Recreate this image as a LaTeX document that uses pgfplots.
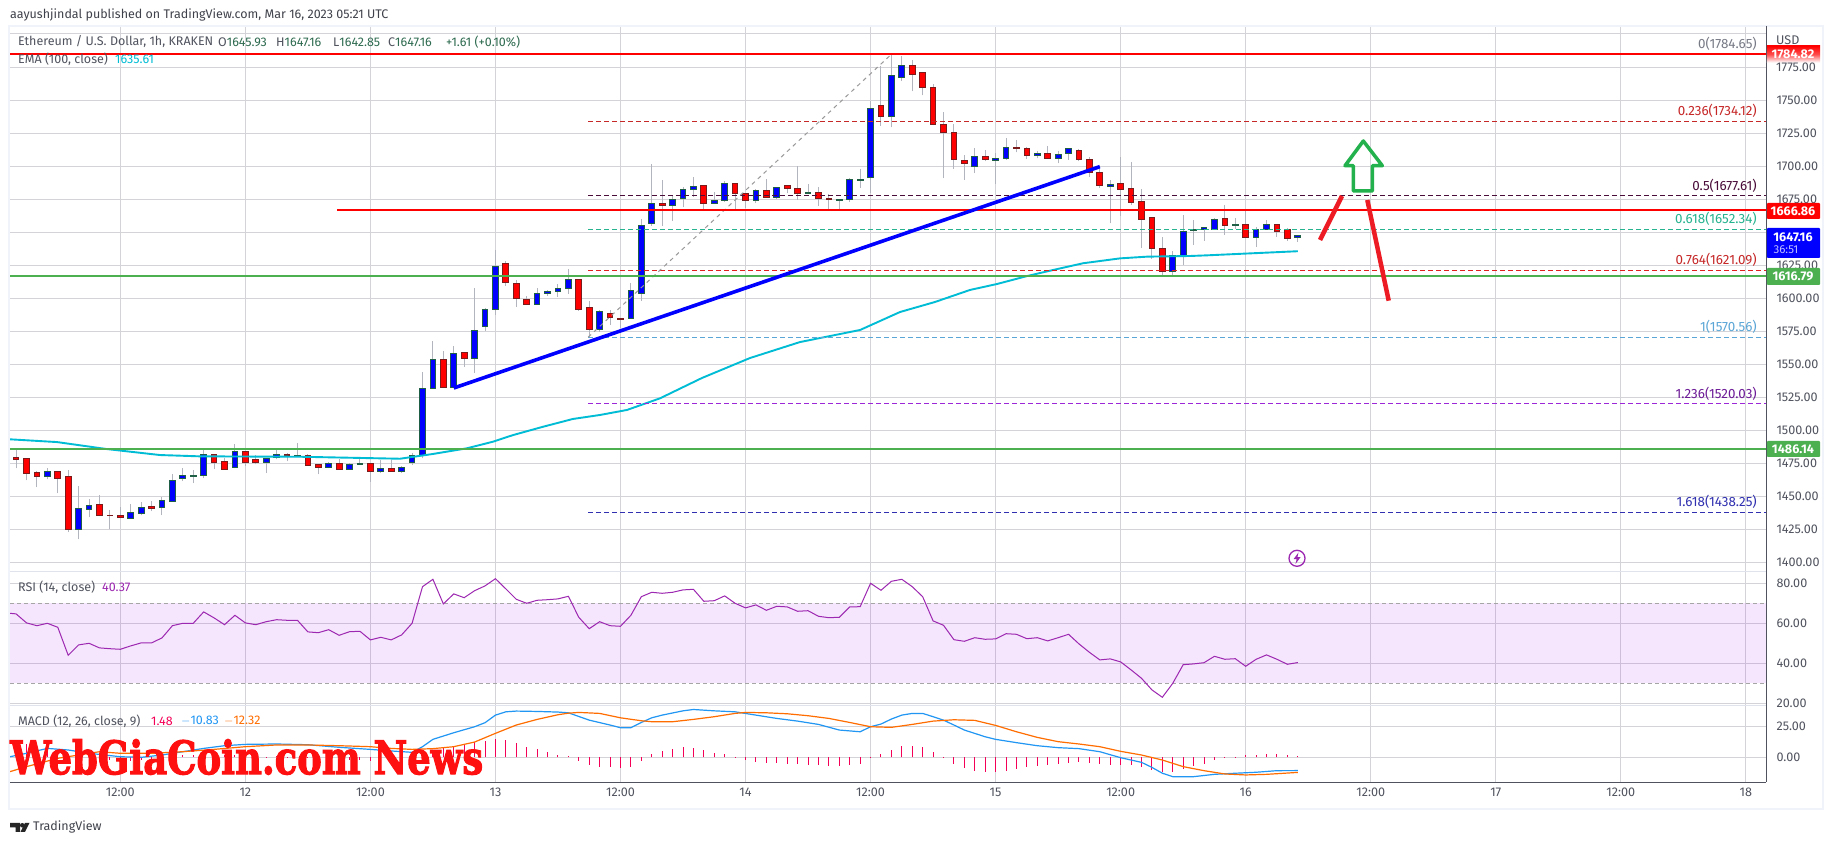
\documentclass[border=0pt]{standalone}
\usepackage{pgfplots}
\pgfplotsset{compat=1.18}
\usepackage{pgfplotstable}
\usepackage{graphicx}
\usepackage{fontspec}
\setmainfont{Fira Sans}
\newfontfamily\wmfont[BoldFeatures={FakeBold=2.5}]{DejaVu Serif}
\definecolor{tvtext}{HTML}{50535E}
\definecolor{gridc}{HTML}{D4D4D8}
\definecolor{sepc}{HTML}{E0E3EB}
\definecolor{frame}{HTML}{F0F3FA}
\definecolor{upb}{HTML}{1E5F46}
\definecolor{dnb}{HTML}{7A1C1C}
\definecolor{wick}{HTML}{B2B5BE}
\definecolor{emac}{HTML}{00BCD4}
\definecolor{lgreen}{HTML}{4CAF50}
\definecolor{rsic}{HTML}{9C27B0}
\definecolor{macdb}{HTML}{2196F3}
\definecolor{macdo}{HTML}{FF6D00}
\definecolor{histc}{HTML}{F50057}
\definecolor{fibA}{HTML}{787B86}
\definecolor{fibB}{HTML}{C62828}
\definecolor{fibC}{HTML}{4A0D3A}
\definecolor{fibD}{HTML}{26B38F}
\definecolor{fibE}{HTML}{E0201F}
\definecolor{fibF}{HTML}{5BA6D6}
\definecolor{fibG}{HTML}{9C27D8}
\definecolor{fibH}{HTML}{3030B0}
\definecolor{ohlc}{HTML}{2E6B50}
\pgfplotstableread{
x o hi lo c
2 1479.7 1485.7 1471.3 1478.2
3 1478.7 1478.7 1462.2 1467.8
4 1468.0 1469.6 1457.2 1464.8
5 1464.8 1471.3 1463.0 1468.8
6 1468.8 1468.8 1452.4 1464.0
7 1465.0 1469.8 1423.0 1425.4
8 1424.9 1457.7 1417.6 1440.8
9 1440.5 1448.4 1434.2 1443.0
10 1443.8 1450.9 1435.0 1436.0
11 1435.8 1439.5 1425.1 1435.3
12 1435.8 1441.8 1434.5 1434.5
13 1433.7 1444.0 1433.7 1437.8
14 1437.5 1445.6 1435.7 1441.5
15 1442.6 1446.3 1439.0 1441.3
16 1441.5 1449.6 1435.7 1446.8
17 1446.6 1466.8 1446.6 1462.0
18 1463.3 1471.3 1461.7 1465.8
19 1465.5 1469.8 1460.2 1466.0
20 1465.8 1485.7 1464.0 1481.7
21 1481.7 1481.7 1470.6 1475.4
22 1476.4 1479.4 1470.8 1470.8
23 1472.3 1489.5 1471.3 1484.0
24 1484.0 1484.0 1473.0 1476.1
25 1477.9 1481.4 1474.4 1475.4
26 1476.1 1479.4 1467.8 1478.7
27 1479.4 1485.7 1478.2 1481.7
28 1481.7 1482.7 1476.6 1480.7
29 1480.7 1490.3 1480.7 1481.2
30 1480.9 1482.0 1473.1 1473.1
31 1474.1 1474.4 1466.8 1472.3
32 1472.3 1476.4 1471.3 1474.9
33 1474.9 1478.2 1470.8 1470.8
34 1470.8 1475.6 1470.6 1474.1
35 1474.1 1478.2 1474.1 1474.9
36 1474.9 1474.9 1461.0 1468.6
37 1468.6 1478.0 1468.0 1471.0
38 1471.0 1478.0 1468.6 1469.3
39 1469.3 1473.0 1468.0 1472.3
40 1475.5 1483.0 1474.0 1481.0
41 1480.8 1544.2 1478.8 1531.8
42 1531.8 1567.7 1531.8 1553.8
43 1553.8 1560.1 1532.0 1532.3
44 1532.3 1563.9 1531.8 1558.3
45 1559.1 1559.1 1548.2 1554.5
46 1554.5 1607.6 1543.7 1575.8
47 1578.5 1592.9 1575.3 1591.7
48 1591.6 1636.5 1587.3 1624.2
49 1626.5 1628.3 1609.3 1611.9
50 1611.4 1613.9 1593.7 1599.7
51 1599.2 1601.8 1595.2 1595.2
52 1595.2 1607.8 1595.2 1603.8
53 1603.5 1606.3 1601.8 1605.3
54 1605.0 1610.9 1601.3 1607.6
55 1607.3 1622.2 1603.3 1614.4
56 1614.4 1614.4 1590.7 1591.7
57 1593.2 1598.0 1570.0 1576.5
58 1576.5 1591.2 1574.7 1590.2
59 1588.6 1591.2 1579.8 1585.4
60 1584.8 1584.8 1577.3 1583.8
61 1584.6 1611.4 1584.6 1606.1
62 1603.8 1659.8 1598.2 1654.8
63 1656.8 1701.5 1654.8 1672.0
64 1672.0 1689.6 1654.8 1670.2
65 1670.2 1678.3 1658.8 1675.0
66 1675.8 1684.1 1668.7 1682.6
67 1682.3 1691.9 1677.0 1684.8
68 1685.6 1685.6 1667.4 1671.7
69 1671.7 1680.3 1671.2 1674.2
70 1674.2 1688.4 1673.0 1687.1
71 1687.1 1687.1 1667.4 1679.3
72 1679.5 1679.5 1668.2 1674.0
73 1674.0 1682.6 1672.0 1681.8
74 1681.8 1690.4 1676.3 1676.3
75 1676.3 1684.1 1675.0 1684.1
76 1685.1 1685.1 1679.3 1683.1
77 1683.3 1700.3 1674.5 1679.3
78 1679.3 1686.6 1679.3 1680.3
79 1680.3 1684.1 1670.0 1675.5
80 1675.8 1679.0 1667.4 1675.0
81 1674.2 1675.0 1667.4 1675.0
82 1675.0 1690.9 1673.2 1690.2
83 1689.4 1697.7 1683.8 1690.2
84 1691.7 1749.0 1680.0 1743.9
85 1745.5 1775.5 1730.6 1737.9
86 1737.9 1785.0 1729.4 1768.2
87 1766.7 1783.6 1764.4 1775.8
88 1775.8 1780.6 1756.6 1769.7
89 1770.5 1771.2 1753.5 1759.8
90 1759.8 1762.4 1730.8 1731.8
91 1731.8 1741.2 1690.9 1725.8
92 1725.8 1731.8 1698.2 1705.3
93 1704.5 1708.3 1689.6 1702.3
94 1700.0 1713.6 1694.7 1707.6
95 1707.6 1712.4 1703.5 1705.0
96 1704.3 1709.8 1686.6 1706.0
97 1705.8 1721.2 1704.8 1714.4
98 1714.4 1720.0 1710.4 1713.4
99 1713.6 1714.4 1705.6 1708.1
100 1708.1 1711.4 1705.8 1709.8
101 1709.8 1715.4 1705.8 1705.8
102 1705.8 1711.4 1702.0 1709.1
103 1709.8 1713.6 1704.8 1713.6
104 1712.1 1712.9 1703.5 1705.3
105 1705.3 1707.1 1691.4 1695.2
106 1695.5 1697.7 1683.8 1685.4
107 1684.9 1689.6 1656.6 1686.4
108 1687.1 1706.6 1662.4 1682.6
109 1683.3 1702.8 1670.7 1672.5
110 1673.5 1682.6 1638.1 1659.8
111 1661.4 1661.4 1629.8 1637.6
112 1637.9 1646.5 1617.7 1620.2
113 1620.2 1635.9 1617.7 1632.6
114 1632.1 1663.1 1625.0 1650.8
115 1651.3 1659.3 1640.4 1652.3
116 1652.3 1653.8 1643.4 1653.8
117 1652.3 1660.6 1652.3 1659.8
118 1660.6 1670.7 1648.0 1655.0
119 1655.0 1660.9 1652.5 1656.0
120 1656.0 1666.0 1646.0 1646.0
121 1646.0 1653.8 1639.1 1652.3
122 1652.3 1659.3 1652.3 1656.0
123 1656.0 1656.0 1646.7 1650.5
124 1652.3 1653.0 1643.7 1645.2
125 1645.93 1647.16 1642.85 1647.16
}\candles
\pgfplotsset{
  tvaxis/.style={
    scale only axis, width=1756pt, xmin=1.414, xmax=169.93,
    axis line style={draw=none}, major tick length=0pt, minor tick length=0pt,
    xmajorgrids, ymajorgrids,
    grid style={color=gridc,line width=1pt},
    xtick={12,24,36,48,60,72,84,96,108,120,132,144,156,168},
    yticklabel pos=right,
    y tick label style={anchor=west,xshift=7pt,font=\fontsize{12.6}{12.6}\selectfont,text=tvtext,
      /pgf/number format/fixed,/pgf/number format/fixed zerofill,/pgf/number format/precision=2,
      /pgf/number format/1000 sep={},/pgf/number format/assume math mode=true},
    clip=true,
  },
}
\begin{document}
\begin{tikzpicture}[x=1pt,y=1pt]
\useasboundingbox (0,0) rectangle (1834,845);
\fill[white] (0,0) rectangle (1834,845);
% ---------- price pane
\begin{axis}[tvaxis, at={(10pt,273pt)}, anchor=south west, height=546pt,
  ymin=1392.9, ymax=1806.03,
  xticklabels={},
  ytick={1400,1425,1450,1475,1500,1525,1550,1575,1600,1625,1675,1700,1725,1750},
  extra y ticks={1650,1775,1800}, extra y tick labels={}]
\pgfplotsforeachungrouped \i in {0,...,123}{
  \pgfplotstablegetelem{\i}{x}\of\candles \let\cx\pgfplotsretval
  \pgfplotstablegetelem{\i}{o}\of\candles \let\co\pgfplotsretval
  \pgfplotstablegetelem{\i}{hi}\of\candles \let\ch\pgfplotsretval
  \pgfplotstablegetelem{\i}{lo}\of\candles \let\cl\pgfplotsretval
  \pgfplotstablegetelem{\i}{c}\of\candles \let\cc\pgfplotsretval
  \pgfmathsetmacro{\xl}{\cx-0.275}
  \pgfmathsetmacro{\xr}{\cx+0.275}
  \ifdim\co pt<\cc pt
    \edef\temp{\noexpand\addplot[wick,line width=1pt] coordinates {(\cx,\cl)(\cx,\ch)};
      \noexpand\addplot[draw=upb,fill=blue,line width=1pt] coordinates {(\xl,\co)(\xr,\co)(\xr,\cc)(\xl,\cc)} -- cycle;}
  \else
    \edef\temp{\noexpand\addplot[wick,line width=1pt] coordinates {(\cx,\cl)(\cx,\ch)};
      \noexpand\addplot[draw=dnb,fill=red,line width=1pt] coordinates {(\xl,\co)(\xr,\co)(\xr,\cc)(\xl,\cc)} -- cycle;}
  \fi
  \temp
}
% EMA
\addplot[emac,line width=1.9pt] coordinates {(1.41,1493.3)(5.93,1491.2)(9.09,1487.7)(10.72,1485.9)(15.81,1481.4)(19.65,1480.4)(29.25,1480.1)(38.84,1478.6)(42,1482.2)(45.27,1486.5)(47.77,1491.5)(49.69,1496.5)(52.57,1502.8)(55.44,1508.7)(58.03,1511.7)(60.62,1515.5)(63.79,1524.3)(67.82,1539.7)(72.43,1554.8)(77.23,1566.9)(82.99,1576)(86.82,1589.6)(90.18,1597.2)(93.54,1606.3)(96.13,1610.8)(99.01,1616.8)(101.51,1621.4)(104.39,1626.5)(107.94,1630.2)(110.53,1631.5)(114.66,1632)(116.3,1632.5)(125,1635.61)};
% fib levels
\addplot[fibA,line width=1pt,dash pattern=on 5pt off 3pt] coordinates {(56.9,1784.65)(169.93,1784.65)};
\addplot[fibB,line width=1pt,dash pattern=on 5pt off 3pt] coordinates {(56.9,1734.12)(169.93,1734.12)};
\addplot[fibC,line width=1pt,dash pattern=on 5pt off 3pt] coordinates {(56.9,1677.61)(169.93,1677.61)};
\addplot[fibD,line width=1pt,dash pattern=on 5pt off 3pt] coordinates {(56.9,1652.34)(169.93,1652.34)};
\addplot[fibE,line width=1pt,dash pattern=on 5pt off 3pt] coordinates {(56.9,1621.09)(169.93,1621.09)};
\addplot[fibF,line width=1pt,dash pattern=on 5pt off 3pt] coordinates {(56.9,1570.56)(169.93,1570.56)};
\addplot[fibG,line width=1pt,dash pattern=on 5pt off 3pt] coordinates {(56.9,1520.03)(169.93,1520.03)};
\addplot[fibH,line width=1pt,dash pattern=on 5pt off 3pt] coordinates {(56.9,1438.25)(169.93,1438.25)};
\addplot[gray!80,line width=1pt,dash pattern=on 4pt off 4pt] coordinates {(56.9,1570.56)(86,1784.65)};
% horizontal levels
\addplot[red,line width=2pt] coordinates {(1.414,1784.82)(169.93,1784.82)};
\addplot[red,line width=2pt] coordinates {(32.8,1666.86)(169.93,1666.86)};
\addplot[lgreen,line width=2pt] coordinates {(1.414,1616.79)(169.93,1616.79)};
\addplot[lgreen,line width=2pt] coordinates {(1.414,1486.14)(169.93,1486.14)};
% trend
\addplot[blue,line width=3.6pt] coordinates {(44,1532.1)(106,1699.6)};
\end{axis}
% ---------- RSI pane
\begin{axis}[tvaxis, at={(10pt,139.3pt)}, anchor=south west, height=133.7pt,
  ymin=18.8, ymax=85.65, xticklabels={},
  ytick={20,40,60,80}]
\addplot[draw=none,fill={rgb,255:red,160;green,0;blue,240},fill opacity=0.1] coordinates {(1.414,30)(169.93,30)(169.93,70)(1.414,70)} -- cycle;
\addplot[gray!70,line width=1pt,dash pattern=on 4pt off 3pt] coordinates {(1.414,70)(169.93,70)};
\addplot[gray!70,line width=1pt,dash pattern=on 4pt off 3pt] coordinates {(1.414,30)(169.93,30)};
\addplot[rsic,line width=1pt] coordinates {(1.41,65)(2,64.7)(3,60.2)(4,58.8)(5,60)(6,58)(7,44)(8,49.2)(9,50)(10,47.7)(11,47.3)(12,47)(13,48.7)(14,50.2)(15,50.2)(16,52.7)(17,58.8)(18,60)(19,60)(20,65.7)(21,62.7)(22,59.3)(23,64)(24,60.2)(25,59.3)(26,60.8)(27,61.8)(28,61.5)(29,61.5)(30,55.7)(31,55.3)(32,56.8)(33,54)(34,55.8)(35,56)(36,51.7)(37,53)(38,51.7)(39,54.2)(40,60)(41,78.3)(42,82)(43,69.7)(44,74.7)(45,72.8)(46,76.3)(47,78.7)(48,82.3)(49,77.2)(50,72)(51,70)(52,71.5)(53,71.8)(54,72.2)(55,73.5)(56,63)(57,57.3)(58,60.8)(59,58.8)(60,58.5)(61,64)(62,73.3)(63,75.5)(64,75)(65,75.5)(66,76.7)(67,77)(68,71)(69,71.3)(70,73.7)(71,70)(72,67.7)(73,69.2)(74,66.5)(75,68.5)(76,68.2)(77,66)(78,66.3)(79,63.5)(80,62.8)(81,63)(82,68.2)(83,68.3)(84,80)(85,76.5)(86,81)(87,82)(88,78.3)(89,73.3)(90,61.2)(91,59)(92,51.8)(93,51)(94,52.8)(95,52)(96,52.2)(97,54.8)(98,54.5)(99,52.3)(100,52.8)(101,51.2)(102,52.8)(103,54.5)(104,49.7)(105,45.5)(106,41.7)(107,42.2)(108,40.7)(109,36.7)(110,32.5)(111,26.7)(112,23)(113,30)(114,39.3)(115,39.7)(116,40.3)(117,43.5)(118,42)(119,42.3)(120,38.5)(121,42)(122,44.2)(123,42)(124,39.5)(125,40.37)};
\end{axis}
% ---------- MACD pane
\begin{axis}[tvaxis, at={(10pt,62.7pt)}, anchor=south west, height=76.6pt,
  ymin=-20.4, ymax=42.2,
  ytick={0,25},
  xticklabels={12:00,12,12:00,13,12:00,14,12:00,15,12:00,16,12:00,17,12:00,18},
  x tick label style={font=\fontsize{12.6}{12.6}\selectfont,text=tvtext,yshift=-2pt}]
\addplot[ycomb,histc,line width=1pt] coordinates {(2,8)(3,11)(4,10)(5,8)(6,7)(7,3)(8,1)(9,-1)(10,-3)(11,-2)(12,-2.5)(13,-3)(14,-2.5)(15,-2)(16,-1)(17,1)(18,1.5)(19,2)(20,3)(21,2.5)(22,2)(23,2)(24,1.5)(25,1)(26,0.5)(27,1)(28,0.5)(29,0)(30,-0.5)(31,-1)(32,-1.5)(33,-1)(34,-2)(35,-2.5)(36,-2.7)(37,-2)(38,-1.5)(39,-1)(40,1)(41,5)(42,6)(43,8)(44,9.5)(45,10.9)(46,12.5)(47,13.3)(48,14.7)(49,14.1)(50,12)(51,8.7)(52,6.8)(53,4.3)(54,1.9)(55,1.1)(56,-2.7)(57,-6.3)(58,-7.6)(59,-7.6)(60,-8.4)(61,-7.6)(62,-2.7)(63,2.7)(64,5.2)(65,6.8)(66,8.4)(67,7.6)(68,6)(69,3.5)(70,2.7)(71,0.3)(72,-2.2)(73,-3.5)(74,-4.3)(75,-4.6)(76,-5.4)(77,-5.4)(78,-6.3)(79,-6.3)(80,-7.1)(81,-6.8)(82,-6.3)(83,-5.2)(84,-0.3)(85,2.7)(86,6)(87,9.2)(88,9.2)(89,8.4)(90,4.3)(91,0.3)(92,-5.4)(93,-8.7)(94,-11.1)(95,-11.7)(96,-12)(97,-10.9)(98,-9.5)(99,-7.6)(100,-6.8)(101,-6.3)(102,-5.4)(103,-4.6)(104,-4.1)(105,-4.3)(106,-5.7)(107,-6.3)(108,-6.3)(109,-6.5)(110,-7.6)(111,-10.3)(112,-12)(113,-12)(114,-9.5)(115,-6.8)(116,-5.4)(117,-2.2)(118,-0.3)(119,0.3)(120,1.6)(121,1.9)(122,2.7)(123,2.7)(124,1.9)(125,1.48)};
\addplot[macdb,line width=1.2pt] coordinates {(1.41,0.5)(3,3.3)(5,7.3)(7,6)(9,3.3)(12,0.5)(14,0)(16,1.9)(18,4.6)(20,7.3)(22,9.5)(24,10.6)(27,10.9)(30,10.3)(33,8.2)(36,6.5)(38,5.2)(40,4.1)(41,8.7)(42,14.7)(44,20.1)(46,25)(47,28.3)(48,34.5)(49,37.2)(50,37.8)(52,37.5)(54,37)(55,36.4)(57,30.4)(59,26.4)(60,24.2)(61,24.2)(62,28.5)(63,32.3)(64,34.5)(66,38)(67,39.1)(69,38)(71,37.2)(73,34.5)(75,31.8)(77,29.6)(79,26.9)(81,22.3)(83,20.9)(84,25)(85,27.2)(86,31.3)(87,34.5)(88,35.9)(89,35.9)(90,33.2)(91,30.4)(92,26.4)(93,22.3)(95,16.8)(96,14.7)(98,12)(100,9.5)(102,7.9)(104,7.1)(106,4.6)(108,-0.3)(110,-4.1)(111,-8.2)(112,-13)(113,-15.8)(115,-15.8)(117,-13.9)(119,-13)(121,-12.2)(123,-10.9)(125,-10.83)};
\addplot[macdo,line width=1.2pt] coordinates {(1.41,-11.7)(3,-7.6)(6,-0.8)(10,4.6)(12,3.3)(15,3.3)(18,4.6)(21,6.5)(24,8.7)(27,10.1)(30,10.1)(33,9.5)(36,8.7)(38,7.3)(40,6.5)(42,7.1)(44,8.7)(46,12.5)(48,19.6)(50,26.4)(52,31)(54,34.8)(55,36.1)(56,36.7)(58,35.9)(60,32.3)(62,29.9)(63,29.1)(65,29.1)(67,31)(69,33.2)(71,35.9)(72,36.7)(74,36.4)(76,35.6)(78,34)(80,31.8)(82,28.5)(84,25)(86,24.5)(88,26.9)(90,29.6)(92,30.7)(94,30.2)(96,26.1)(98,20.9)(100,16.3)(102,12.8)(104,10.9)(106,8.7)(108,4.9)(110,1.9)(112,-2.2)(114,-7.6)(116,-10.9)(118,-13.6)(120,-14.4)(122,-13.9)(125,-12.32)};
\end{axis}
% ---------- overlay, image pixel coordinates
\begin{scope}[shift={(0,845)},y=-1pt,x=1pt]
\draw[frame,line width=2pt] (9,26) rectangle (1823,809);
\draw[sepc,line width=1pt] (10,572) -- (1766,572);
\draw[sepc,line width=1pt] (10,705.7) -- (1766,705.7);
\draw[tvtext,line width=1pt] (1766.5,26) -- (1766.5,782.5);
\draw[tvtext,line width=1pt] (10,782.5) -- (1766,782.5);
% annotations
\draw[color={rgb,255:red,237;green,28;blue,36},line width=4.5pt] (1320,240) -- (1342,196);
\draw[color={rgb,255:red,237;green,28;blue,36},line width=4.5pt] (1367.3,200) -- (1388.7,300.7);
\draw[color={rgb,255:red,34;green,177;blue,76},line width=3.5pt,line join=round] (1363.3,141) -- (1382.3,165.7) -- (1372.3,165.7) -- (1372.3,191) -- (1353.3,191) -- (1353.3,165.7) -- (1345,165.7) -- cycle;
% lightning
\draw[rsic,line width=1.3pt] (1297,558.3) circle (8);
\fill[rsic] (1298.5,552.5) -- (1293.5,559.2) -- (1296.6,559.2) -- (1295.5,564) -- (1300.5,557.2) -- (1297.4,557.2) -- cycle;
% badges
\shade[top color=red,bottom color=white,middle color=red!70!white] (1766.8,46) rectangle (1820,62.5);
\node[anchor=center,text=white,font=\fontsize{12.6}{12.6}\selectfont\bfseries] at (1793,54.5) {1784.82};
\node[anchor=west,inner sep=0,text=tvtext,font=\fontsize{12.6}{12.6}\selectfont] at (1776,67) {1775.00};
\fill[red,rounded corners=1pt] (1766.8,203) rectangle (1820,219);
\node[text=white,font=\fontsize{12.6}{12.6}\selectfont\bfseries] at (1793,211) {1666.86};
\fill[blue,rounded corners=1pt] (1766.8,228) rectangle (1820,258);
\node[text=white,font=\fontsize{12.6}{12.6}\selectfont\bfseries] at (1793,237) {1647.16};
\node[text=white!75!blue,font=\fontsize{11.5}{11.5}\selectfont] at (1786,250) {36:51};
\fill[lgreen,rounded corners=1pt] (1766.8,268) rectangle (1820,285);
\node[text=white,font=\fontsize{12.6}{12.6}\selectfont\bfseries] at (1793,276.5) {1616.79};
\fill[lgreen,rounded corners=1pt] (1766.8,441) rectangle (1820,457);
\node[text=white,font=\fontsize{12.6}{12.6}\selectfont\bfseries] at (1793,449) {1486.14};
\node[anchor=west,inner sep=0,text=tvtext,font=\fontsize{12.6}{12.6}\selectfont] at (1776,40) {USD};
% fib labels
\tikzset{fl/.style={anchor=east,inner sep=0,font=\fontsize{13.4}{13.4}\selectfont}}
\node[fl,text=fibA] at (1757,44) {0(1784.65)};
\node[fl,text=fibB] at (1757,111) {0.236(1734.12)};
\node[fl,text=fibC] at (1757,186) {0.5(1677.61)};
\node[fl,text=fibD] at (1757,219) {0.618(1652.34)};
\node[fl,text=fibB] at (1757,260) {0.764(1621.09)};
\node[fl,text=fibF] at (1757,327) {1(1570.56)};
\node[fl,text=fibG!70!black] at (1757,394) {1.236(1520.03)};
\node[fl,text=fibH] at (1757,502) {1.618(1438.25)};
% header
\tikzset{hd/.style={anchor=west,inner sep=0,font=\fontsize{12.5}{12.5}\selectfont}}
\node[hd,text=tvtext!80!black] at (10,15) {aayushjindal published on TradingView.com, Mar 16, 2023 05:21 UTC};
\node[hd,text=tvtext] at (18,42) {Ethereum / U.S. Dollar, 1h, KRAKEN};
\node[hd,text=tvtext] at (218,42) {O\textcolor{ohlc}{1645.93}};
\node[hd,text=tvtext] at (276,42) {H\textcolor{ohlc}{1647.16}};
\node[hd,text=tvtext] at (333,42) {L\textcolor{ohlc}{1642.85}};
\node[hd,text=tvtext] at (388,42) {C\textcolor{ohlc}{1647.16}};
\node[hd,text=ohlc] at (446,42) {+1.61 (+0.10\%)};
\node[hd,text=tvtext] at (18,59) {EMA (100, close)};
\node[hd,text=emac] at (115,59) {1635.61};
\node[hd,text=tvtext] at (18,587) {RSI (14, close)};
\node[hd,text=rsic] at (102,587) {40.37};
\node[hd,text=tvtext] at (18,721) {MACD (12, 26, close, 9)};
\node[hd,text=histc] at (151,721) {1.48};
\node[hd,text=macdb] at (181,721) {$-$10.83};
\node[hd,text=macdo] at (224,721) {$-$12.32};
% watermark
\node[anchor=south west,inner sep=0,text={rgb,255:red,255;green,16;blue,16}] at (10,775) {\resizebox{473pt}{35pt}{\wmfont\bfseries WebGiaCoin.com News}};
% logo
\fill[black!85] (10,823) -- (20,823) -- (20,832) -- (15.5,832) -- (15.5,827.5) -- (10,827.5) -- cycle;
\fill[black!85] (22.3,825.3) circle (2.3);
\fill[black!85] (29.5,823) -- (25,832) -- (20.5,832) -- (25,823) -- cycle;
\node[anchor=west,inner sep=0,text=tvtext!80!black,font=\fontsize{12.5}{12.5}\selectfont] at (33,827) {TradingView};
\end{scope}
\end{tikzpicture}
\end{document}
